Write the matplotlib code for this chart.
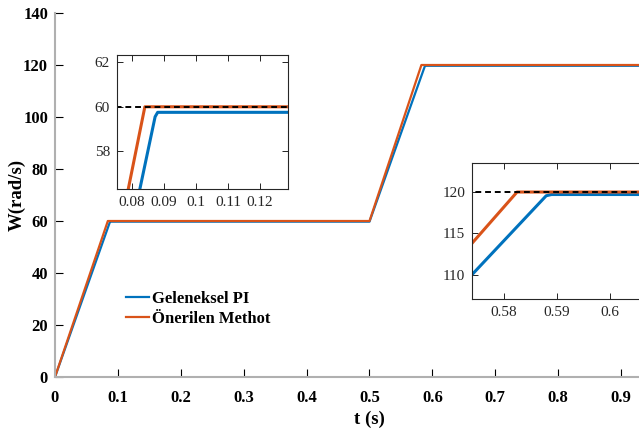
import matplotlib.pyplot as plt

# data
t_pi = [0, 0.0872, 0.0880, 0.5, 0.5880, 0.5890, 1.0]
w_pi = [0, 59.55, 59.75, 59.75, 119.55, 119.7, 119.7]
t_new = [0, 0.0840, 0.5, 0.5825, 1.0]
w_new = [0, 60.0, 60.0, 120.0, 120.0]
ref_t = [0, 1.0]
ref_w1 = [60, 60]
ref_w2 = [120, 120]

BLUE = "#0072BD"
ORANGE = "#D95319"
plt.rcParams["font.family"] = ["Liberation Serif", "DejaVu Serif"]

W, H = 639, 436
fig = plt.figure(figsize=(W / 100, H / 100), dpi=100)

# main axes (right side runs past the image edge, as in the original crop)
ax = fig.add_axes([55 / W, 1 - 377 / H, 629 / W, 364 / H])
ax.plot(t_pi, w_pi, color=BLUE, lw=1.6, label="Geleneksel PI")
ax.plot(t_new, w_new, color=ORANGE, lw=1.6, label="Önerilen Methot")
ax.set_xlim(0, 1)
ax.set_ylim(0, 140)
ax.set_xticks([i / 10 for i in range(10)])
ax.set_xticklabels(["0"] + [f"{i / 10:g}" for i in range(1, 10)])
ax.set_yticks(range(0, 141, 20))
for s in ["top", "right"]:
    ax.spines[s].set_visible(False)
for s in ["left", "bottom"]:
    ax.spines[s].set_color("#b0b0b0")
    ax.spines[s].set_linewidth(1.5)
ax.tick_params(direction="in", length=6, width=0.8, color="black",
               labelsize=12)
ax.tick_params(axis="x", pad=9)
ax.tick_params(axis="y", pad=5)
for lab in ax.get_xticklabels() + ax.get_yticklabels():
    lab.set_fontweight("bold")
ax.set_xlabel("t (s)", fontsize=13.5, fontweight="bold", labelpad=4)
ax.set_ylabel("W(rad/s)", fontsize=13.5, fontweight="bold", labelpad=-2)
ax.legend(loc="upper left", bbox_to_anchor=(64 / 629, 1 - 271 / 364),
          frameon=False, handlelength=1.4, handletextpad=0.2,
          labelspacing=0.25, borderaxespad=0,
          prop={"weight": "bold", "size": 12})

# inset 1: first step
ax1 = fig.add_axes([117 / W, 1 - 189 / H, 171 / W, 134 / H])
ax1.plot(t_pi, w_pi, color=BLUE, lw=2.2)
ax1.plot(t_new, w_new, color=ORANGE, lw=2.2)
ax1.plot(ref_t, ref_w1, color="black", lw=1.4, ls=(0, (3, 2)))
ax1.set_xlim(0.0753, 0.1287)
ax1.set_ylim(56.3, 62.33)
ax1.set_xticks([0.08, 0.09, 0.1, 0.11, 0.12])
ax1.set_xticklabels(["0.08", "0.09", "0.1", "0.11", "0.12"])
ax1.set_yticks([58, 60, 62])

# inset 2: second step
ax2 = fig.add_axes([472 / W, 1 - 299 / H, 220 / W, 136 / H])
ax2.plot(t_pi, w_pi, color=BLUE, lw=2.2)
ax2.plot(t_new, w_new, color=ORANGE, lw=2.2)
ax2.plot(ref_t, ref_w2, color="black", lw=1.4, ls=(0, (3, 2)))
ax2.set_xlim(0.574, 0.574 + 220 / 5300)
ax2.set_ylim(107.1, 123.5)
ax2.set_xticks([0.58, 0.59, 0.6])
ax2.set_xticklabels(["0.58", "0.59", "0.6"])
ax2.set_yticks([110, 115, 120])

for a in (ax1, ax2):
    for s in a.spines.values():
        s.set_color("#262626")
        s.set_linewidth(0.8)
    a.tick_params(direction="in", length=4, width=0.6, top=True, right=True,
                  labelsize=11, labelcolor="#262626", pad=5)

fig.savefig("out.png", dpi=100)
